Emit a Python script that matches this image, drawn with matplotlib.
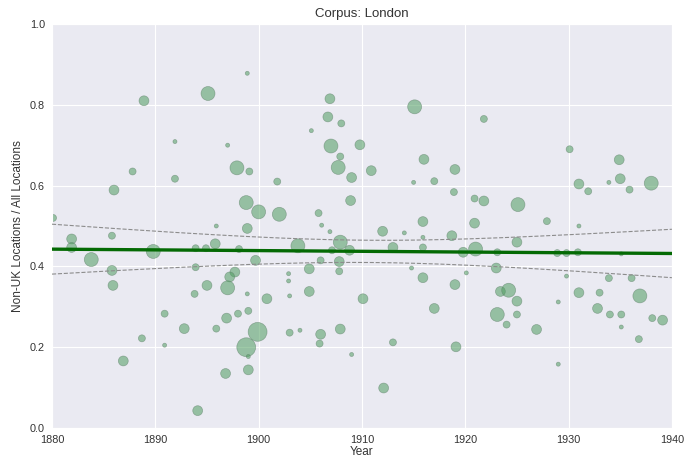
import numpy as np
import matplotlib
matplotlib.use("Agg")
import matplotlib.pyplot as plt
import seaborn as sns

sns.set_style("darkgrid")
plt.rcParams['font.family'] = ['Liberation Sans', 'DejaVu Sans']

# publication year of each text
years = [
    1898.9, 1895.1, 1888.9, 1891.9, 1897.0, 1897.9, 1899.1, 1887.8, 1891.9, 1886.0,
    1898.8, 1900.0, 1880.1, 1895.9, 1898.9,
    1906.9, 1915.1, 1906.7, 1908.0, 1905.1, 1907.0, 1909.8, 1907.9, 1907.7, 1910.9,
    1916.0, 1919.0, 1909.0, 1915.0, 1917.0, 1918.9, 1901.8, 1908.9, 1902.0, 1905.8,
    1915.9,
    1921.8, 1930.1, 1934.9, 1935.0, 1931.0, 1931.9, 1933.9, 1935.9, 1938.0, 1920.9,
    1921.8, 1925.1, 1927.9, 1920.9, 1931.0,
    1881.9, 1881.9, 1885.8, 1883.8, 1885.8, 1885.9, 1889.8, 1893.9, 1894.9, 1895.8,
    1898.1, 1899.7, 1893.9, 1897.7, 1897.2, 1895.0, 1897.0, 1893.8, 1898.9, 1890.9,
    1896.9, 1898.0, 1899.0, 1895.9, 1892.8, 1888.7, 1890.9, 1898.8, 1886.9, 1899.0,
    1896.8, 1894.1, 1899.0, 1899.9,
    1906.1, 1906.9, 1912.0, 1915.9, 1914.1, 1918.7, 1903.8, 1907.9, 1908.8, 1907.1,
    1913.0, 1915.9, 1919.8, 1906.0, 1907.8, 1904.9, 1907.8, 1902.9, 1902.9, 1914.8,
    1915.9, 1919.0, 1904.9, 1900.8, 1903.0, 1910.1, 1917.0, 1903.0, 1904.0, 1907.9,
    1906.0, 1905.9, 1909.0, 1913.0, 1919.1, 1912.1,
    1925.0, 1921.0, 1923.1, 1928.9, 1929.8, 1930.9, 1935.1, 1923.0, 1920.1, 1929.8,
    1933.9, 1936.1, 1923.4, 1924.2, 1931.0, 1933.0, 1936.9, 1925.0, 1929.0, 1923.1,
    1925.0, 1932.8, 1934.0, 1935.1, 1924.0, 1926.9, 1935.1, 1938.1, 1939.1, 1936.8,
    1929.0,
]

# share of non-UK locations among all locations in the text
ratios = [
    0.878, 0.828, 0.810, 0.709, 0.700, 0.644, 0.635, 0.635, 0.617, 0.589,
    0.558, 0.535, 0.520, 0.500, 0.494,
    0.815, 0.795, 0.770, 0.754, 0.736, 0.698, 0.701, 0.672, 0.645, 0.637,
    0.665, 0.640, 0.620, 0.608, 0.611, 0.584, 0.610, 0.563, 0.529, 0.532,
    0.511,
    0.765, 0.690, 0.664, 0.617, 0.604, 0.586, 0.608, 0.590, 0.606, 0.568,
    0.562, 0.553, 0.512, 0.507, 0.500,
    0.468, 0.447, 0.476, 0.417, 0.390, 0.353, 0.437, 0.445, 0.445, 0.456,
    0.443, 0.415, 0.398, 0.386, 0.374, 0.353, 0.347, 0.332, 0.332, 0.283,
    0.272, 0.283, 0.290, 0.246, 0.246, 0.222, 0.205, 0.200, 0.166, 0.144,
    0.135, 0.043, 0.177, 0.238,
    0.502, 0.486, 0.487, 0.472, 0.483, 0.476, 0.451, 0.460, 0.440, 0.440,
    0.447, 0.447, 0.435, 0.415, 0.412, 0.394, 0.388, 0.382, 0.364, 0.396,
    0.372, 0.355, 0.338, 0.320, 0.327, 0.320, 0.296, 0.236, 0.242, 0.245,
    0.232, 0.209, 0.182, 0.212, 0.201, 0.099,
    0.460, 0.443, 0.435, 0.433, 0.433, 0.435, 0.431, 0.396, 0.384, 0.376,
    0.371, 0.371, 0.338, 0.341, 0.335, 0.335, 0.327, 0.314, 0.312, 0.281,
    0.281, 0.296, 0.281, 0.281, 0.256, 0.244, 0.250, 0.272, 0.267, 0.220,
    0.158,
]

# number of locations found in each text (marker size)
n_locations = [
    2, 24, 12, 2, 2, 24, 6, 6, 6, 12,
    24, 24, 6, 2, 12,
    12, 24, 12, 6, 2, 24, 12, 6, 24, 12,
    12, 12, 12, 2, 6, 6, 6, 12, 24, 6,
    12,
    6, 6, 12, 12, 12, 6, 2, 6, 24, 6,
    12, 24, 6, 12, 2,
    12, 12, 6, 24, 12, 12, 24, 6, 6, 12,
    6, 12, 6, 12, 12, 12, 24, 6, 2, 6,
    12, 6, 6, 6, 12, 6, 2, 44, 12, 12,
    12, 12, 2, 44,
    2, 2, 12, 2, 2, 12, 24, 24, 12, 6,
    12, 6, 12, 6, 12, 12, 6, 2, 2, 2,
    12, 12, 12, 12, 2, 12, 12, 6, 2, 12,
    12, 6, 2, 6, 12, 12,
    12, 24, 6, 6, 6, 6, 2, 12, 2, 2,
    6, 6, 12, 24, 12, 6, 24, 12, 2, 24,
    6, 12, 6, 6, 6, 12, 2, 6, 12, 6,
    2,
]

x = np.array(years)
y = np.array(ratios)
sizes = np.array(n_locations) * 4.2

# ordinary least squares fit with a 95% confidence band
slope, intercept = np.polyfit(x, y, 1)
xs = np.linspace(1880, 1940, 200)
fit = intercept + slope * xs
resid = y - (intercept + slope * x)
n = len(x)
s_err = np.sqrt(np.sum(resid ** 2) / (n - 2))
se = s_err * np.sqrt(1.0 / n + (xs - x.mean()) ** 2 / np.sum((x - x.mean()) ** 2))
ci = 1.976 * se

fig = plt.figure(figsize=(6.88, 4.66), dpi=100)
ax = fig.add_axes([0.0756, 0.0815, 0.901, 0.867])

ax.scatter(x, y, s=sizes, color='#4f9d60', alpha=0.55,
           edgecolor='#5d7f68', linewidth=0.5, zorder=2)
ax.plot(xs, fit, color='#046a04', linewidth=2.4, zorder=3)
ax.plot(xs, fit + ci, color='#8c8c8c', linewidth=0.8, linestyle='--', zorder=3)
ax.plot(xs, fit - ci, color='#8c8c8c', linewidth=0.8, linestyle='--', zorder=3)

ax.set_xlim(1880, 1940)
ax.set_ylim(0, 1)
ax.set_xticks(np.arange(1880, 1941, 10))
ax.set_yticks(np.arange(0, 1.01, 0.2))
ax.tick_params(labelsize=7.8, colors='#333333', length=0, pad=5)
ax.set_title("Corpus: London", fontsize=9.5, color='#333333', pad=5)
ax.set_xlabel("Year", fontsize=8.5, color='#333333', labelpad=1)
ax.set_ylabel("Non-UK Locations / All Locations", fontsize=8.5, color='#333333', labelpad=4)

fig.savefig("out.png", dpi=100)
